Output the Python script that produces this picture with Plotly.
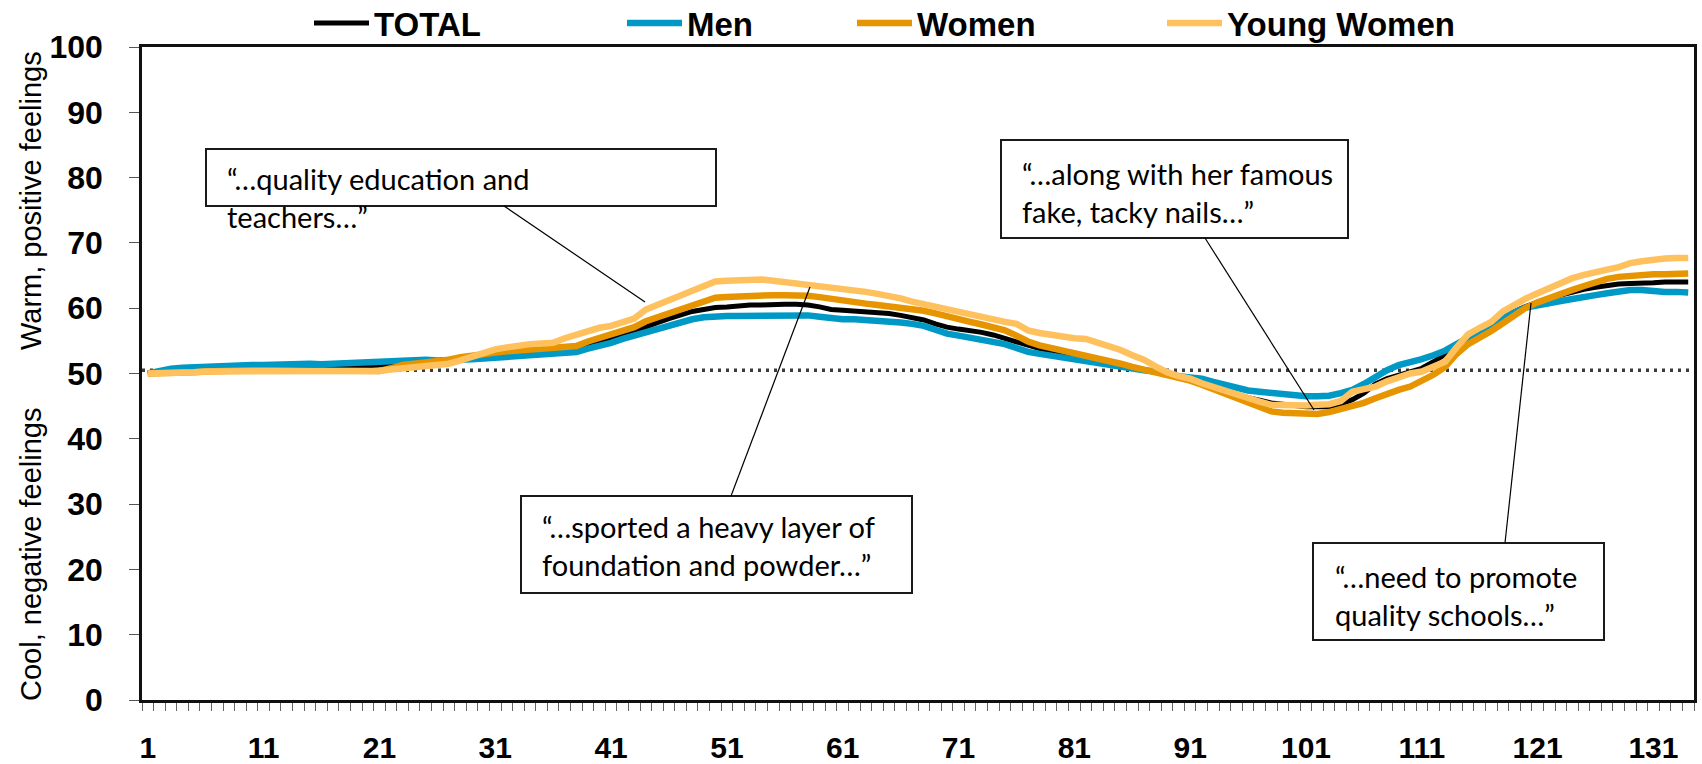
import plotly.graph_objects as go

# ---------------- data ----------------
categories = list(range(1, 135))
x_tick_labels = [1, 11, 21, 31, 41, 51, 61, 71, 81, 91, 101, 111, 121, 131]
y_tick_labels = [0, 10, 20, 30, 40, 50, 60, 70, 80, 90, 100]
neutral_level = 50.5

total = [
    50.0, 50.2, 50.4, 50.5, 50.6, 50.7, 50.8, 50.8, 50.9, 50.9,
    51.0, 51.0, 51.0, 51.1, 51.1, 51.0, 51.1, 51.1, 51.2, 51.2,
    51.3, 51.4, 51.5, 51.6, 51.8, 51.9, 52.0, 52.1, 52.2, 52.4,
    52.5, 52.6, 52.7, 52.8, 52.9, 53.0, 53.2, 53.6, 54.2, 54.7,
    55.2, 55.8, 56.5, 57.3, 57.8, 58.4, 59.0, 59.5, 59.8, 60.1,
    60.2, 60.4, 60.5, 60.5, 60.6, 60.6, 60.6, 60.5, 60.2, 59.8,
    59.7, 59.6, 59.5, 59.4, 59.2, 58.9, 58.6, 58.2, 57.6, 57.1,
    56.8, 56.6, 56.3, 55.9, 55.4, 54.8, 54.2, 53.8, 53.4, 53.1,
    52.8, 52.4, 52.0, 51.6, 51.2, 50.8, 50.5, 50.2, 49.8, 49.3,
    48.9, 48.5, 47.9, 47.3, 46.7, 46.3, 45.9, 45.5, 45.3, 45.1,
    44.9, 44.9, 44.9, 45.3, 46.0, 47.0, 48.4, 49.2, 49.7, 50.2,
    50.8, 51.8, 52.9, 54.3, 55.7, 56.6, 57.6, 58.5, 59.5, 60.3,
    61.0, 61.5, 62.0, 62.5, 62.9, 63.2, 63.5, 63.7, 63.8, 63.8,
    63.9, 64.0, 64.0, 64.0,
]

men = [
    50.0, 50.4, 50.75, 50.9, 51.0, 51.1, 51.2, 51.2, 51.3, 51.3,
    51.3, 51.4, 51.4, 51.4, 51.5, 51.4, 51.5, 51.5, 51.6, 51.6,
    51.7, 51.8, 51.9, 52.0, 52.1, 52.0, 52.0, 52.0, 52.2, 52.3,
    52.4, 52.5, 52.6, 52.7, 52.8, 52.9, 53.1, 53.3, 53.8, 54.2,
    54.7, 55.3, 55.8, 56.5, 57.0, 57.5, 57.9, 58.3, 58.6, 58.8,
    58.8, 58.8, 58.8, 58.9, 59.0, 59.0, 59.0, 58.9, 58.7, 58.4,
    58.3, 58.3, 58.2, 58.2, 58.1, 57.8, 57.6, 57.3, 56.7, 56.1,
    55.8, 55.5, 55.2, 54.8, 54.5, 53.9, 53.3, 53.0, 52.7, 52.4,
    52.1, 51.8, 51.5, 51.3, 51.0, 50.8, 50.5, 50.3, 49.9, 49.6,
    49.4, 49.2, 48.7, 48.2, 47.7, 47.4, 47.2, 47.0, 46.8, 46.6,
    46.5, 46.5, 46.6, 47.0, 47.5, 48.4, 49.5, 50.5, 51.3, 51.7,
    52.2, 52.8, 53.5, 54.5, 55.5, 56.4, 57.5, 58.5, 59.4, 60.1,
    60.5, 60.9, 61.1, 61.4, 61.8, 62.0, 62.3, 62.6, 62.8, 62.8,
    62.6, 62.5, 62.5, 62.4,
]

women = [
    50.0, 50.0, 50.0, 50.1, 50.2, 50.3, 50.4, 50.5, 50.55, 50.5,
    50.5, 50.5, 50.5, 50.5, 50.6, 50.5, 50.5, 50.4, 50.4, 50.4,
    50.4, 50.8, 51.3, 51.5, 51.7, 51.8, 52.1, 52.5, 52.8, 53.0,
    53.2, 53.4, 53.5, 53.6, 53.7, 53.8, 54.0, 54.2, 54.9, 55.4,
    56.0, 56.5, 57.1, 58.0, 58.6, 59.2, 59.9, 60.6, 61.1, 61.6,
    61.7, 61.8, 62.0, 62.0, 62.0, 62.0, 62.0, 61.9, 61.7, 61.4,
    61.2, 61.0, 60.7, 60.5, 60.3, 60.1, 59.9, 59.6, 59.2, 58.7,
    58.3, 57.9, 57.5, 57.0, 56.6, 55.8, 54.9, 54.3, 53.9, 53.6,
    53.2, 52.9, 52.5, 52.0, 51.5, 51.0, 50.6, 50.2, 49.8, 49.5,
    48.9, 48.3, 47.6, 46.9, 46.2, 45.5, 44.8, 44.2, 44.0, 43.9,
    43.8, 43.8, 44.1, 44.5, 44.9, 45.5, 46.2, 46.9, 47.5, 48.0,
    48.8, 49.8, 51.0, 53.0, 54.5, 55.4, 56.5, 57.7, 59.0, 60.1,
    60.9, 61.6, 62.2, 62.8, 63.4, 64.0, 64.5, 64.8, 65.0, 65.1,
    65.2, 65.2, 65.3, 65.3,
]

young_women = [
    50.0, 50.0, 50.0, 50.1, 50.2, 50.3, 50.3, 50.4, 50.4, 50.4,
    50.4, 50.5, 50.5, 50.4, 50.5, 50.4, 50.4, 50.4, 50.4, 50.4,
    50.4, 50.6, 50.8, 51.0, 51.2, 51.3, 51.5, 52.0, 52.6, 53.2,
    53.7, 54.0, 54.3, 54.5, 54.6, 54.7, 55.4, 56.0, 56.6, 57.0,
    57.3, 57.9, 58.4, 59.8, 60.5, 61.3, 62.0, 62.8, 63.5, 64.1,
    64.2, 64.3, 64.4, 64.4, 64.2, 64.0, 63.8, 63.6, 63.4, 63.3,
    63.1, 62.8, 62.5, 62.2, 61.9, 61.5, 61.0, 60.6, 60.2, 59.8,
    59.3, 58.9, 58.7, 58.3, 57.9, 57.6, 56.6, 56.2, 55.9, 55.6,
    55.4, 55.3, 54.8, 54.2, 53.6, 52.8, 52.1, 51.1, 50.2, 49.6,
    49.2, 48.5, 47.9, 47.3, 46.7, 46.2, 45.7, 45.2, 45.1, 45.1,
    45.1, 45.2, 45.3, 45.8, 47.2, 47.6, 48.0, 48.8, 49.5, 50.0,
    50.3, 51.0, 51.8, 54.0, 56.0, 57.0, 57.9, 59.5, 60.6, 61.5,
    62.3, 63.1, 63.8, 64.6, 65.1, 65.6, 65.9, 66.3, 66.9, 67.2,
    67.5, 67.6, 67.7, 67.7,
]

series_names = ["TOTAL", "Men", "Women", "Young Women"]
series_values = [total, men, women, young_women]

callout_texts = [
    "\u201c\u2026quality education and<br>teachers\u2026\u201d",
    "\u201c\u2026sported a heavy layer of<br>foundation and powder\u2026\u201d",
    "\u201c\u2026along with her famous<br>fake, tacky nails\u2026\u201d",
    "\u201c\u2026need to promote<br>quality schools\u2026\u201d",
]

# ---------------- layout constants ----------------
FIG_W, FIG_H = 1702, 764
M_L, M_R, M_T, M_B = 142, 8, 47, 64
PLOT_W = FIG_W - M_L - M_R
PLOT_H = FIG_H - M_T - M_B
X_MIN, X_MAX = categories[0] - 0.5, categories[-1] + 0.5
Y_MIN, Y_MAX = 0, 100

ARIAL = "Liberation Sans, Arial, sans-serif"
CALLOUT_FONT = "Lato, Open Sans, sans-serif"

series_colors = ["#000000", "#0099C6", "#E69500", "#FFC15E"]
series_widths = [5, 6.5, 6.5, 6.5]
legend_ids = ["legend", "legend2", "legend3", "legend4"]
legend_left_px = [309, 622, 852, 1162]
legend_mid_py = 23


def px_to_paper(px, py):
    return (px - M_L) / PLOT_W, (FIG_H - M_B - py) / PLOT_H


def px_to_data(px, py):
    fx, fy = px_to_paper(px, py)
    return X_MIN + fx * (X_MAX - X_MIN), Y_MIN + fy * (Y_MAX - Y_MIN)


fig = go.Figure()

for name, vals, col, w, lg in zip(series_names, series_values, series_colors,
                                  series_widths, legend_ids):
    fig.add_trace(go.Scatter(
        x=categories, y=vals, mode="lines", name=name,
        line=dict(color=col, width=w), legend=lg,
        hovertemplate=name + " %{x}: %{y}<extra></extra>",
    ))

# neutral dotted reference line
fig.add_shape(type="line", xref="paper", x0=0, x1=1, yref="y",
              y0=neutral_level, y1=neutral_level,
              line=dict(color="#3a3a3a", width=3.5, dash="3px,5px"), layer="below")

# ---------------- callouts ----------------
boxes_px = [  # (x0, y0, x1, y1) in page pixels
    (206, 149, 716, 206),
    (521, 496, 912, 593),
    (1001, 140, 1348, 238),
    (1313, 543, 1604, 640),
]
text_pos_px = [(225, 197), (540, 545), (1020, 192), (1333, 595)]
leader_px = [
    ((504, 206), (645, 302)),
    ((731, 496), (810, 287)),
    ((1205, 238), (1314, 410)),
    ((1505, 543), (1531, 303)),
]

for (x0, y0, x1, y1) in boxes_px:
    px0, py0 = px_to_paper(x0, y1)
    px1, py1 = px_to_paper(x1, y0)
    fig.add_shape(type="rect", xref="paper", yref="paper",
                  x0=px0, y0=py0, x1=px1, y1=py1,
                  line=dict(color="#1a1a1a", width=2),
                  fillcolor="white", layer="above")
for (a, b) in leader_px:
    dx0, dy0 = px_to_data(*a)
    dx1, dy1 = px_to_data(*b)
    fig.add_shape(type="line", xref="x", yref="y",
                  x0=dx0, y0=dy0, x1=dx1, y1=dy1,
                  line=dict(color="#000000", width=1.2), layer="above")

annotations = []
for txt, (tx, ty) in zip(callout_texts, text_pos_px):
    ax_, ay_ = px_to_paper(tx, ty)
    annotations.append(dict(text=txt, xref="paper", yref="paper", x=ax_, y=ay_,
                            xanchor="left", yanchor="middle", align="left",
                            showarrow=False,
                            font=dict(family=CALLOUT_FONT, size=29, color="black")))

# y-axis split titles
for txt, cy in [("Warm, positive feelings", 201), ("Cool, negative feelings", 555)]:
    ax_, ay_ = px_to_paper(31, cy)
    annotations.append(dict(text=txt, xref="paper", yref="paper", x=ax_, y=ay_,
                            xanchor="center", yanchor="middle", textangle=-90,
                            showarrow=False,
                            font=dict(family=ARIAL, size=29, color="black")))

legend_cfg = {}
for lg, lx in zip(legend_ids, legend_left_px):
    legend_cfg[lg] = dict(xref="container", yref="container",
                          x=lx / FIG_W, y=1 - legend_mid_py / FIG_H,
                          xanchor="left", yanchor="middle",
                          orientation="h", bgcolor="rgba(0,0,0,0)",
                          borderwidth=0, itemwidth=55,
                          font=dict(family=ARIAL, size=33, color="black",
                                    weight="bold"))

minor_vals = [c - 0.5 for c in categories] + [categories[-1] + 0.5]

fig.update_layout(
    width=FIG_W, height=FIG_H,
    margin=dict(l=M_L, r=M_R, t=M_T, b=M_B, pad=0, autoexpand=False),
    paper_bgcolor="white", plot_bgcolor="white",
    showlegend=True,
    annotations=annotations,
    xaxis=dict(
        range=[X_MIN, X_MAX], tickmode="array", tickvals=x_tick_labels,
        ticktext=[str(v) for v in x_tick_labels], automargin=False,
        ticks="outside", ticklen=8, tickcolor="rgba(0,0,0,0)",
        ticklabelstandoff=11,
        tickfont=dict(family=ARIAL, size=30, color="black", weight="bold"),
        showline=True, linecolor="#111111", linewidth=2.5, mirror=True,
        showgrid=False, zeroline=False,
        minor=dict(tickmode="array", tickvals=minor_vals, ticks="outside",
                   ticklen=8, tickcolor="#666666", tickwidth=1.3, showgrid=False),
    ),
    yaxis=dict(
        range=[Y_MIN, Y_MAX], tickmode="array", tickvals=y_tick_labels,
        automargin=False,
        ticks="outside", ticklen=10, tickcolor="#555555", tickwidth=1.3,
        ticklabelstandoff=20,
        tickfont=dict(family=ARIAL, size=32, color="black", weight="bold"),
        showline=True, linecolor="#111111", linewidth=2.5, mirror=True,
        showgrid=False, zeroline=False,
    ),
    **legend_cfg,
)

fig.write_html("out.html", config={"displayModeBar": False},
               post_script="document.body.style.margin='0';")
